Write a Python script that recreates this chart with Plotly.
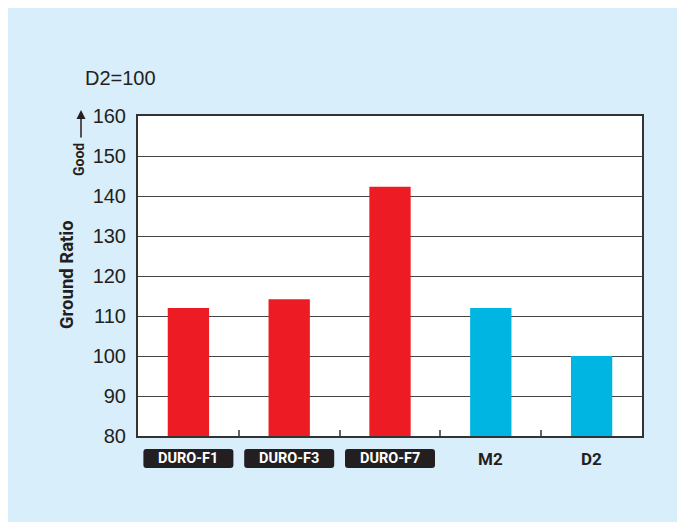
import plotly.graph_objects as go

categories = ["DURO-F1", "DURO-F3", "DURO-F7", "M2", "D2"]
values = [112, 114.2, 142.3, 112, 100]
bar_colors = ["#ED1C24", "#ED1C24", "#ED1C24", "#00B5E2", "#00B5E2"]
boxed = [True, True, True, False, False]
y_ticks = [80, 90, 100, 110, 120, 130, 140, 150, 160]

OFF = 8  # page offset of the figure in the browser
W, H = 685, 522
L, R, T = 138 - OFF, 43 + OFF, 116 - OFF
B = H - (436 - OFF)
PW, PH = W - L - R, H - T - B

def px2x(px):
    return (px - OFF - L) / PW

def py2y(py):
    return (T + PH - (py - OFF)) / PH

NARROW = "Roboto, Liberation Sans Narrow, Arial Narrow, sans-serif"
REG = "Liberation Sans, Arial, Helvetica, sans-serif"

fig = go.Figure(go.Bar(
    x=categories, y=values, marker=dict(color=bar_colors, line=dict(width=0)),
    width=0.41, hoverinfo="skip"))

shapes = []
annotations = []
n = len(categories)
hw = 45 / PW
rx, ry = 3 / PW, 3 / PH
y0b, y1b = py2y(468), py2y(449)
ymid = py2y(458.5)
for i, (c, b) in enumerate(zip(categories, boxed)):
    cx = (i + 0.5) / n
    if b:
        x0, x1 = cx - hw, cx + hw
        path = (f"M {x0+rx},{y0b} L {x1-rx},{y0b} Q {x1},{y0b} {x1},{y0b+ry} "
                f"L {x1},{y1b-ry} Q {x1},{y1b} {x1-rx},{y1b} L {x0+rx},{y1b} "
                f"Q {x0},{y1b} {x0},{y1b-ry} L {x0},{y0b+ry} Q {x0},{y0b} {x0+rx},{y0b} Z")
        shapes.append(dict(type="path", xref="paper", yref="paper", path=path,
                           fillcolor="#231F20", line=dict(width=0)))
        annotations.append(dict(x=cx, y=ymid, xref="paper", yref="paper", text=f"<b>{c}</b>",
                                showarrow=False, font=dict(family=NARROW, size=14.5, color="white"),
                                xanchor="center", yanchor="middle"))
    else:
        annotations.append(dict(x=cx, y=ymid, xref="paper", yref="paper", text=f"<b>{c}</b>",
                                showarrow=False, font=dict(family=NARROW, size=17, color="#231F20"),
                                xanchor="center", yanchor="middle"))

annotations += [
    dict(x=px2x(67), y=py2y(275), xref="paper", yref="paper", text="<b>Ground Ratio</b>",
         textangle=-90, showarrow=False, font=dict(family=NARROW, size=18.5, color="#231F20"),
         xanchor="center", yanchor="middle"),
    dict(x=px2x(79), y=py2y(160), xref="paper", yref="paper", text="<b>Good</b>",
         textangle=-90, showarrow=False, font=dict(family=NARROW, size=14, color="#231F20"),
         xanchor="center", yanchor="middle"),
    dict(x=px2x(81), y=py2y(110), xref="paper", yref="paper", text="", showarrow=True,
         ax=0, ay=29, arrowhead=2, arrowsize=1.2, arrowwidth=1.5, arrowcolor="#231F20"),
    dict(x=px2x(83), y=py2y(78), xref="paper", yref="paper", text="D2=100",
         showarrow=False, font=dict(family=REG, size=20, color="#231F20"),
         xanchor="left", yanchor="middle"),
]

fig.update_layout(
    width=W, height=H, margin=dict(l=L, r=R, t=T, b=B),
    paper_bgcolor="#D9EEFB", plot_bgcolor="white",
    showlegend=False, shapes=shapes, annotations=annotations,
    xaxis=dict(type="category", categoryorder="array", categoryarray=categories,
               tickson="boundaries", ticks="inside", ticklen=6, tickcolor="#666", tickwidth=1.5,
               showticklabels=False, showgrid=False, showline=True, linecolor="#333",
               linewidth=2, mirror=True, range=[-0.5, n - 0.5]),
    yaxis=dict(range=[80, 160], tickvals=y_ticks, showgrid=True, gridcolor="#444", gridwidth=1,
               showline=True, linecolor="#333", linewidth=2, mirror=True, ticks="",
               tickfont=dict(family=REG, size=20, color="#231F20"), ticklabelstandoff=6,
               zeroline=False),
)

fig.write_html("out.html")
